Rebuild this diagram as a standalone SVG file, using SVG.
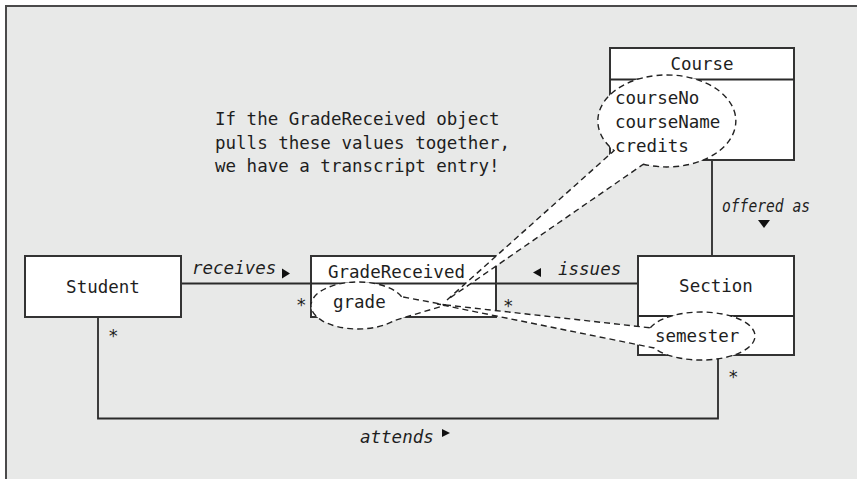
<svg xmlns="http://www.w3.org/2000/svg" width="857" height="479" viewBox="0 0 857 479">
<style>
.t{font-family:"DejaVu Sans Mono","Liberation Mono",monospace;font-size:17.5px;fill:#1e1e1e}
.i{font-style:italic}
.box{fill:#fff;stroke:#333;stroke-width:2}
.ln{fill:none;stroke:#2a2a2a;stroke-width:1.8}
.bf{fill:#fff;stroke:none}
.bo{fill:none;stroke:#222;stroke-width:1.4;stroke-dasharray:6 4}
.ar{fill:#111}
</style>
<rect x="0" y="0" width="857" height="479" fill="#fff"/>
<rect x="6" y="6" width="860" height="480" fill="#e8e9e8"/>
<path d="M6,479 V6 H857" fill="none" stroke="#4a4a4a" stroke-width="2"/>

<g id="connectors">
  <path class="ln" d="M181,283.5 H638"/>
  <path class="ln" d="M712,160 V256"/>
  <path class="ln" d="M98,317 V418.5 H718 V355"/>
  <polygon class="ar" points="282,268.5 290,273.5 282,278.5"/>
  <text class="t i" x="192" y="274">receives</text>
  <text class="t" x="296" y="311">*</text>
  <polygon class="ar" points="533,272.5 541,268 541,277"/>
  <text class="t i" x="558" y="275">issues</text>
  <text class="t" x="503" y="312">*</text>
  <text class="t i" x="722" y="212" textLength="88" lengthAdjust="spacingAndGlyphs">offered as</text>
  <polygon class="ar" points="758,220 770,220 764,228"/>
  <text class="t" x="108" y="342">*</text>
  <text class="t" x="728" y="383">*</text>
  <text class="t i" x="360" y="443">attends</text>
  <polygon class="ar" points="442,429 450,433 442,437"/>
</g>

<g id="node-student">
  <rect class="box" x="25" y="256" width="156" height="61"/>
  <text class="t" x="103" y="293" text-anchor="middle">Student</text>
</g>

<g id="node-gradereceived">
  <rect class="box" x="311" y="256" width="185" height="61"/>
  <path class="ln" d="M311,283.5 H496"/>
  <text class="t" x="328" y="278">GradeReceived</text>
</g>

<g id="node-section">
  <rect class="box" x="638" y="256" width="156" height="99"/>
  <path class="ln" d="M638,316 H794"/>
  <text class="t" x="716" y="292" text-anchor="middle">Section</text>
</g>

<g id="node-course">
  <rect class="box" x="610" y="48" width="184" height="112"/>
  <path class="ln" d="M610,79.5 H794"/>
  <text class="t" x="702" y="70" text-anchor="middle">Course</text>
</g>

<g id="note">
  <text class="t" x="215" y="125">If the GradeReceived object</text>
  <text class="t" x="215" y="148.5">pulls these values together,</text>
  <text class="t" x="215" y="172">we have a transcript entry!</text>
</g>

<g id="callouts">
  <path class="bf" d="M643.4,164.2 A69,46 0 1 0 614.1,150.6 L447,300 Z"/>
  <path class="bf" d="M401.6,296.7 A47,23.5 0 1 0 394,320.6 L446,305 Z"/>
  <path class="bf" d="M650.3,327.8 A54,24 0 1 1 654.2,348 L437,304 Z"/>
  <path class="bo" d="M643.4,164.2 A69,46 0 1 0 614.1,150.6 L447,300 Z"/>
  <path class="bo" d="M401.6,296.7 A47,23.5 0 1 0 394,320.6 L446,305 Z"/>
  <path class="bo" d="M650.3,327.8 A54,24 0 1 1 654.2,348 L437,304 Z"/>
  <text class="t" x="615" y="103.5">courseNo</text>
  <text class="t" x="615" y="128">courseName</text>
  <text class="t" x="615" y="152">credits</text>
  <text class="t" x="333" y="308">grade</text>
  <text class="t" x="655" y="342">semester</text>
</g>
</svg>
